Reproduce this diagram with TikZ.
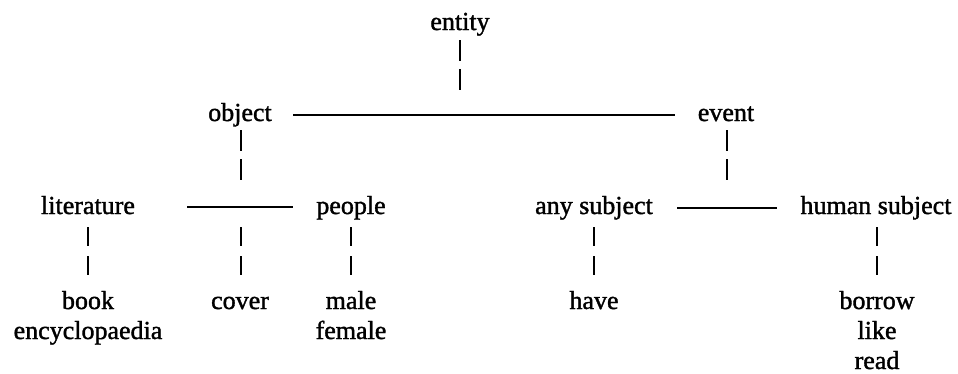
\documentclass[tikz,border=0pt]{standalone}
\usepackage{fontspec}
\setmainfont{Liberation Serif}
\newfontfamily\scanfont{Liberation Serif}[FakeBold=1.4]
\begin{document}
\begin{tikzpicture}[x=1pt,y=-1pt,
  lbl/.style={anchor=base,inner sep=0pt,font=\scanfont\fontsize{26}{30}\selectfont},
  hline/.style={line width=2.2pt},
  vbar/.style={line width=1.8pt},
  toplink/.style={vbar,dash pattern=on 21pt off 8pt},
  sublink/.style={vbar,dash pattern=on 19pt off 10pt}]
\useasboundingbox (0,0) rectangle (958,373);
% nodes
\node[lbl] (entity) at (460,30) {entity};
\node[lbl] (object) at (240,121) {object};
\node[lbl] (event) at (726,121) {event};
\node[lbl] (literature) at (88,214) {literature};
\node[lbl] (people) at (351,214) {people};
\node[lbl] (anysubj) at (594,214) {any subject};
\node[lbl] (humansubj) at (876,214) {human subject};
\node[lbl] (book) at (88,309) {book};
\node[lbl] (encyc) at (88,339) {encyclopaedia};
\node[lbl] (cover) at (240,309) {cover};
\node[lbl] (male) at (351,309) {male};
\node[lbl] (female) at (351,339) {female};
\node[lbl] (have) at (594,309) {have};
\node[lbl] (borrow) at (877,309) {borrow};
\node[lbl] (like) at (877,339) {like};
\node[lbl] (read) at (877,369) {read};
% line end points
\coordinate (h1a) at (293,115);
\coordinate (h1b) at (675,115);
\coordinate (h2a) at (187,207);
\coordinate (h2b) at (293,207);
\coordinate (h3a) at (677,208);
\coordinate (h3b) at (777,208);
\coordinate (s0) at (460,115);
\coordinate (s1) at (241,207);
\coordinate (s2) at (727,208);
% horizontal lines
\draw[hline] (h1a) -- (h1b);
\draw[hline] (h2a) -- (h2b);
\draw[hline] (h3a) -- (h3b);
% vertical connectors
\draw[toplink,shorten <=10pt,shorten >=25pt] (entity.base) -- (s0);
\draw[toplink,shorten <=9pt,shorten >=25pt] (object.base -| s1) -- (s1);
\draw[toplink,shorten <=9pt,shorten >=25pt] (event.base -| s2) -- (s2);
\draw[sublink,shorten <=20pt,shorten >=33pt] (s1) -- (cover.base -| s1);
\draw[sublink,shorten <=13pt,shorten >=33pt] (literature.base) -- (book.base);
\draw[sublink,shorten <=13pt,shorten >=33pt] (people.base) -- (male.base);
\draw[sublink,shorten <=13pt,shorten >=33pt] (anysubj.base) -- (have.base);
\draw[sublink,shorten <=13pt,shorten >=33pt] (humansubj.base -| borrow.base) -- (borrow.base);
\end{tikzpicture}
\end{document}
